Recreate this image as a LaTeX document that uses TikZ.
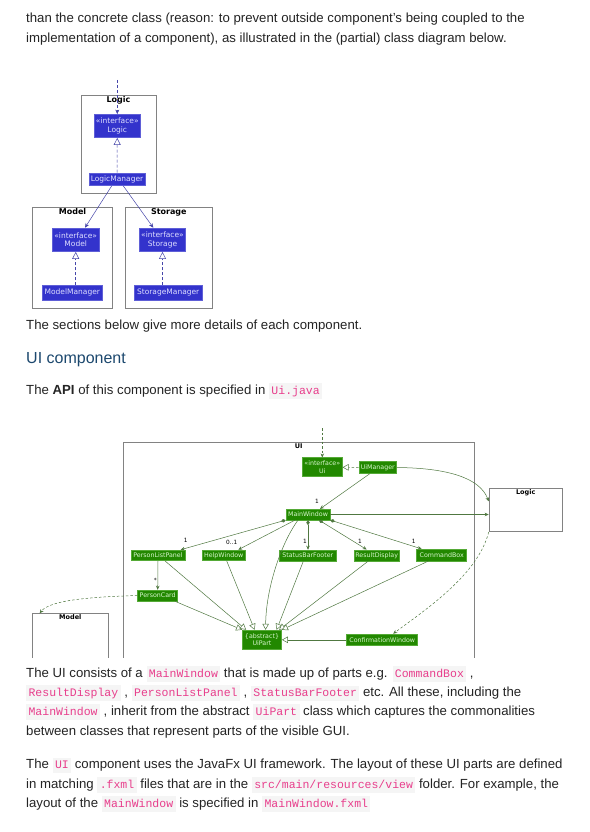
\documentclass[tikz,border=0pt]{standalone}
\usepackage{fontspec}
\setmainfont{Liberation Sans}
\setmonofont{Liberation Mono}
\newfontfamily\umlfont{DejaVu Sans}
\usetikzlibrary{arrows.meta,positioning}
\definecolor{textcol}{RGB}{36,36,36}
\definecolor{headcol}{RGB}{28,72,110}
\definecolor{codefg}{RGB}{232,62,140}
\definecolor{codebg}{RGB}{245,245,245}
\definecolor{umlblue}{RGB}{51,51,204}
\definecolor{blueline}{RGB}{95,95,215}
\definecolor{bluetext}{RGB}{222,222,255}
\definecolor{blueedge}{RGB}{70,70,170}
\definecolor{umlgreen}{RGB}{34,136,0}
\definecolor{greenline}{RGB}{85,170,55}
\definecolor{greentext}{RGB}{215,245,205}
\definecolor{greenedge}{RGB}{80,120,65}
\definecolor{pkgline}{RGB}{130,130,130}
\newcommand{\bodyfont}{\fontsize{13.2}{16}\selectfont}
\newcommand{\codefont}{\ttfamily\fontsize{11.5}{14}\selectfont}
\newcommand{\code}[1]{{\setlength{\fboxsep}{2.4pt}\colorbox{codebg}{\textcolor{codefg}{\codefont\vphantom{Ay}#1}}}}

\begin{document}
\begin{tikzpicture}[x=1pt,y=-1pt,
    txt/.style={anchor=base west,inner sep=0pt,text=textcol,font=\bodyfont}]
  \useasboundingbox[fill=white] (0,0) rectangle (589,832);

  % text above
  \node[txt] (intro1) at (26,23) {than the concrete class (reason: to prevent outside component's being coupled to the};
  \node[txt] (intro2) at (26,43) {implementation of a component), as illustrated in the (partial) class diagram below.};

  % architecture diagram
  \begin{scope}[font=\umlfont\fontsize{7.5}{8.8}\selectfont,
      cls/.style={draw=blueline,fill=umlblue,text=bluetext,inner sep=0pt,align=center,line width=0.5pt},
      pkg/.style={draw=pkgline,inner sep=0pt,line width=0.7pt},
      pkgname/.style={anchor=north,inner sep=1.5pt,text=black,font=\umlfont\bfseries\fontsize{8}{9}\selectfont},
      assoc/.style={draw=blueedge,line width=0.5pt,-{Stealth[length=4.5pt,width=4pt]}},
      realize/.style={draw=blueedge,line width=0.5pt,dash pattern=on 3pt off 2pt,-{Triangle[fill=white,length=7pt,width=7pt]}}]
    \node[pkg,minimum width=75pt,minimum height=98pt] (LogicPkg) at (118.5,144) {};
    \node[pkgname] (LogicName) at (LogicPkg.north) {Logic};
    \node[pkg,minimum width=79.6pt,minimum height=101pt] (ModelPkg) at (72.5,257.8) {};
    \node[pkgname] (ModelName) at (ModelPkg.north) {Model};
    \node[pkg,minimum width=87pt,minimum height=101pt] (StoragePkg) at (168.8,257.8) {};
    \node[pkgname] (StorageName) at (StoragePkg.north) {Storage};

    \node[cls,minimum width=46.7pt,minimum height=23.4pt] (ILogic) at (117.3,126) {«interface»\\Logic};
    \node[cls,minimum width=56pt,minimum height=12.7pt] (LogicManager) at (117,179.3) {LogicManager};
    \node[cls,minimum width=46.7pt,minimum height=23.7pt] (IModel) at (75.7,239.8) {«interface»\\Model};
    \node[cls,minimum width=46.4pt,minimum height=23.7pt] (IStorage) at (162.5,239.8) {«interface»\\Storage};
    \node[cls,minimum width=60pt,minimum height=14.3pt] (ModelManager) at (72.3,292.8) {ModelManager};
    \node[cls,minimum width=68.3pt,minimum height=14.3pt] (StorageManager) at (168.2,292.8) {StorageManager};

    \coordinate (LogicIn) at (117.3,80);
    \path (LogicIn) edge[assoc,dash pattern=on 3pt off 2pt] (ILogic.north);
    \path (LogicManager) edge[realize] (ILogic);
    \path ([xshift=-5.3pt]LogicManager.south) edge[assoc] ([xshift=9.3pt]IModel.north);
    \path ([xshift=6.3pt]LogicManager.south) edge[assoc] ([xshift=-9.2pt]IStorage.north);
    \path (IModel.south |- ModelManager.north) edge[realize] (IModel.south);
    \path (IStorage.south |- StorageManager.north) edge[realize] (IStorage.south);
  \end{scope}

  \node[txt] (sections) at (26,329) {The sections below give more details of each component.};
  \node[txt,text=headcol,font=\fontsize{16}{19}\selectfont] (uihead) at (26,363) {UI component};
  \node[txt] (api) at (26,394) {The \textbf{API} of this component is specified in \code{Ui.java}};

  % UI class diagram
  \begin{scope}[font=\umlfont\fontsize{6.3}{7.4}\selectfont,
      cls/.style={draw=greenline,fill=umlgreen,text=greentext,inner sep=0pt,align=center,line width=0.5pt},
      pkg/.style={draw=pkgline,inner sep=0pt,line width=0.7pt},
      pkgname/.style={anchor=north,inner sep=1.5pt,text=black,font=\umlfont\bfseries\fontsize{6.5}{7}\selectfont},
      assoc/.style={draw=greenedge,line width=0.5pt,-{Stealth[length=4pt,width=3.5pt]}},
      depend/.style={assoc,dash pattern=on 2.5pt off 2pt},
      compose/.style={draw=greenedge,line width=0.5pt,{Diamond[length=5pt,width=3.5pt]}-{Stealth[length=4pt,width=3.5pt]}},
      inherit/.style={draw=greenedge,line width=0.5pt,-{Triangle[fill=white,length=6pt,width=6.5pt]}},
      realize/.style={inherit,dash pattern=on 2.5pt off 2pt},
      mult/.style={font=\umlfont\fontsize{5.8}{6}\selectfont,text=black,inner sep=0pt}]
    \begin{scope}
      \clip (0,420) rectangle (589,657);
      \node[pkg,minimum width=350.7pt,minimum height=240pt,anchor=north] (UIPkg) at (298.7,441.7) {};
      \node[pkg,minimum width=76pt,minimum height=60pt,anchor=north] (ModelBox) at (70.3,613.3) {};
    \end{scope}
    \node[pkgname] (UIName) at (UIPkg.north) {UI};
    \node[pkgname] (ModelBoxName) at (ModelBox.north) {Model};
    \node[pkg,minimum width=73.3pt,minimum height=43.4pt] (LogicBox) at (525.7,510) {};
    \node[pkgname] (LogicBoxName) at (LogicBox.north) {Logic};

    \node[cls,minimum width=40pt,minimum height=19pt] (Ui) at (322.3,467.2) {«interface»\\Ui};
    \node[cls,minimum width=37.7pt,minimum height=11.6pt] (UiManager) at (377.8,467.5) {UiManager};
    \node[cls,minimum width=44pt,minimum height=10.7pt] (MainWindow) at (308,514.5) {MainWindow};
    \node[cls,minimum width=54pt,minimum height=10.7pt] (PersonListPanel) at (158,555.3) {PersonListPanel};
    \node[cls,minimum width=42.7pt,minimum height=10.7pt] (HelpWindow) at (223.7,555.3) {HelpWindow};
    \node[cls,minimum width=57.7pt,minimum height=11pt] (StatusBarFooter) at (307.8,555.5) {StatusBarFooter};
    \node[cls,minimum width=45.3pt,minimum height=11pt] (ResultDisplay) at (376.7,555.3) {ResultDisplay};
    \node[cls,minimum width=50pt,minimum height=11.7pt] (CommandBox) at (441.7,555) {CommandBox};
    \node[cls,minimum width=40pt,minimum height=11pt] (PersonCard) at (157.7,595.5) {PersonCard};
    \node[cls,minimum width=39.3pt,minimum height=19.3pt] (UiPart) at (262,639.7) {\{abstract\}\\UiPart};
    \node[cls,minimum width=71pt,minimum height=11.7pt] (ConfirmationWindow) at (382.2,639.8) {ConfirmationWindow};

    \coordinate (UiIn) at (322.3,428);
    \path (UiIn) edge[depend] (Ui.north);
    \path (UiManager) edge[realize] (Ui);
    \draw[assoc] (UiManager.east) .. controls (448,468) and (480,478) .. ([yshift=-13.4pt]LogicBox.north west);
    \path ([xshift=-7.8pt]UiManager.south) edge[assoc] node[mult,pos=1,xshift=-3pt,yshift=8pt] {1} ([xshift=12pt]MainWindow.north);
    \path (MainWindow.east) edge[assoc] (MainWindow.east -| LogicBox.west);

    \path (MainWindow.south west) edge[compose] node[mult,pos=1,xshift=5pt,yshift=9pt] {1} ([xshift=22.7pt]PersonListPanel.north);
    \path ([xshift=-13pt]MainWindow.south) edge[assoc] node[mult,pos=1,xshift=-6.6pt,yshift=7.5pt] {0..1} ([xshift=14.6pt]HelpWindow.north);
    \path (MainWindow.south) edge[compose] node[mult,pos=1,xshift=-3pt,yshift=8pt] {1} (MainWindow.south |- StatusBarFooter.north);
    \path ([xshift=11pt]MainWindow.south) edge[compose] node[mult,pos=1,xshift=-6.7pt,yshift=8.3pt] {1} ([xshift=-10pt]ResultDisplay.north);
    \path (MainWindow.south east) edge[compose] node[mult,pos=1,xshift=-8pt,yshift=8pt] {1} ([xshift=-20pt]CommandBox.north);
    \path (PersonListPanel.south) edge[assoc] node[mult,pos=1,xshift=-2.5pt,yshift=9pt] {*} (PersonCard.north);
    \draw[depend] (PersonCard.west) .. controls (90,597) and (50,600) .. ([xshift=7.7pt]ModelBox.north west);

    \path ([xshift=-3pt]PersonCard.south east) edge[inherit] (UiPart.north west);
    \path ([xshift=7pt]PersonListPanel.south) edge[inherit] ([xshift=4pt]UiPart.north west);
    \path ([xshift=3pt]HelpWindow.south) edge[inherit] ([xshift=12.5pt]UiPart.north west);
    \draw[inherit] ([xshift=-10pt]MainWindow.south) .. controls (280,545) and (266,590) .. ([xshift=23.5pt]UiPart.north west);
    \path ([xshift=-4.5pt]StatusBarFooter.south) edge[inherit] ([xshift=34.5pt]UiPart.north west);
    \path ([xshift=-8.4pt]ResultDisplay.south) edge[inherit] ([xshift=37pt]UiPart.north west);
    \path ([xshift=-13.4pt]CommandBox.south) edge[inherit] (UiPart.north east);
    \path (ConfirmationWindow.west) edge[inherit] (ConfirmationWindow.west -| UiPart.east);
    \draw[depend] (LogicBox.south west) .. controls (478,575) and (425,610) .. ([xshift=11pt]ConfirmationWindow.north);
  \end{scope}

  % text below
  \node[txt] (para1) at (26,677) {The UI consists of a \code{MainWindow} that is made up of parts e.g. \code{CommandBox} ,};
  \node[txt] (para2) at (26,696) {\code{ResultDisplay} , \code{PersonListPanel} , \code{StatusBarFooter} etc. All these, including the};
  \node[txt] (para3) at (26,715) {\code{MainWindow} , inherit from the abstract \code{UiPart} class which captures the commonalities};
  \node[txt] (para4) at (26,735) {between classes that represent parts of the visible GUI.};
  \node[txt] (para5) at (26,768) {The \code{UI} component uses the JavaFx UI framework. The layout of these UI parts are defined};
  \node[txt] (para6) at (26,788) {in matching \code{.fxml} files that are in the \code{src/main/resources/view} folder. For example, the};
  \node[txt] (para7) at (26,807) {layout of the \code{MainWindow} is specified in \code{MainWindow.fxml}};
\end{tikzpicture}
\end{document}
